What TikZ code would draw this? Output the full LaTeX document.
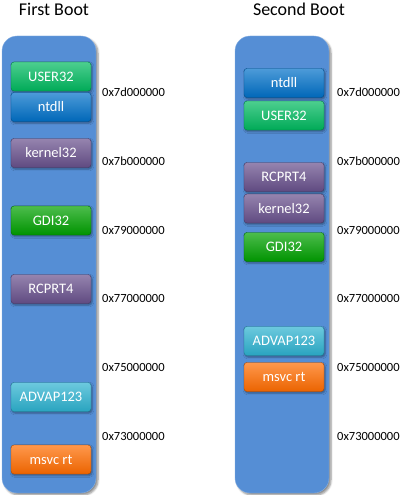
\documentclass[tikz,border=0pt]{standalone}
\usepackage{fontspec}
\setmainfont{Carlito}
\usepackage{xcolor}
\usetikzlibrary{calc,shadows.blur}
\definecolor{colblue}{RGB}{85,142,213}
\definecolor{userg}{RGB}{0,185,95}
\definecolor{ntblue}{RGB}{0,112,200}
\definecolor{kpurple}{RGB}{104,80,140}
\definecolor{gdig}{RGB}{0,160,0}
\definecolor{advcyan}{RGB}{45,178,208}
\definecolor{msorange}{RGB}{255,108,0}
\tikzset{
	memcol/.style={
			rounded corners=15pt, fill=colblue, draw=colblue!70!white, thin,
			blur shadow={shadow xshift=2pt, shadow yshift=-2pt, shadow blur steps=6, shadow opacity=45}
		},
	dll/.style={
			rounded corners=3pt, inner sep=0pt, minimum width=80pt, minimum height=29pt,
			draw=#1!70!black, top color=#1!70!white, bottom color=#1!92!black,
			text=white, font=\fontsize{14.5}{16}\selectfont,
			blur shadow={shadow xshift=1pt, shadow yshift=-1.5pt, shadow blur steps=4, shadow opacity=40}
		},
	addr/.style={anchor=west, inner sep=0pt, font=\fontsize{12.5}{14}\selectfont},
	boot/.style={font=\fontsize{18}{20}\selectfont}
}

\begin{document}
\begin{tikzpicture}[x=1pt,y=-1pt]
            \useasboundingbox (0,0) rectangle (400,495);
            % Titles
            \node[boot] (first) at (54,9) {First Boot};
            \node[boot] (second) at (299,9) {Second Boot};
            % Address space columns
            \draw[memcol] (2,36) rectangle (96,493);
            \draw[memcol] (235,36) rectangle (329,493);
            % First boot modules
            \node[dll=userg] (user1) at (51,76.5) {USER32};
            \node[dll=ntblue] (ntdll1) at (51,107) {ntdll};
            \node[dll=kpurple] (kernel1) at (51,153) {kernel32};
            \node[dll=gdig] (gdi1) at (51,220.5) {GDI32};
            \node[dll=kpurple] (rcprt1) at (51,289) {RCPRT4};
            \node[dll=advcyan] (advap1) at (51,397) {ADVAP123};
            \node[dll=msorange] (msvc1) at (51,459.5) {msvc rt};
            % Second boot modules
            \node[dll=ntblue] (ntdll2) at (284,83) {ntdll};
            \node[dll=userg] (user2) at (284,115.5) {USER32};
            \node[dll=kpurple] (rcprt2) at (284,177) {RCPRT4};
            \node[dll=kpurple] (kernel2) at (284,208.5) {kernel32};
            \node[dll=gdig] (gdi2) at (284,247) {GDI32};
            \node[dll=advcyan] (advap2) at (284,341) {ADVAP123};
            \node[dll=msorange] (msvc2) at (284,377) {msvc rt};
            % Addresses
            \node[addr] (a7d1) at (102,92) {0x7d000000};
            \node[addr] (a7b1) at (102,161) {0x7b000000};
            \node[addr] (a791) at (102,230) {0x79000000};
            \node[addr] (a771) at (102,298) {0x77000000};
            \node[addr] (a751) at (102,367) {0x75000000};
            \node[addr] (a731) at (102,436) {0x73000000};
            \node[addr] (a7d2) at (337,92) {0x7d000000};
            \node[addr] (a7b2) at (337,161) {0x7b000000};
            \node[addr] (a792) at (337,230) {0x79000000};
            \node[addr] (a772) at (337,298) {0x77000000};
            \node[addr] (a752) at (337,367) {0x75000000};
            \node[addr] (a732) at (337,436) {0x73000000};
        \end{tikzpicture}
\end{document}
